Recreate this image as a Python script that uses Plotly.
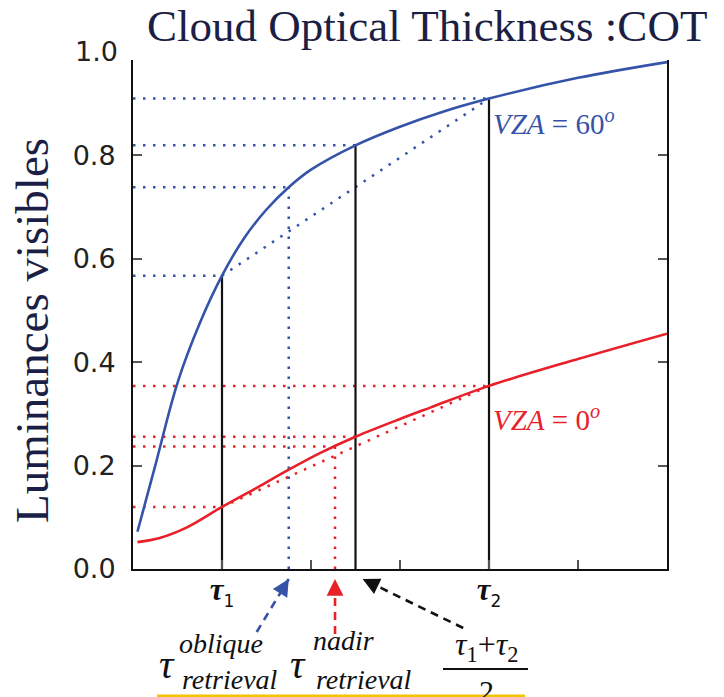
import plotly.graph_objects as go

# ---------------- data ----------------
x_blue = [0.05, 0.25, 0.5, 0.75, 1.0, 1.25, 1.5, 1.75, 2.0, 2.5, 3.0, 3.5, 4.0, 5.0, 6.0]
y_blue = [0.072, 0.200, 0.360, 0.475, 0.567, 0.640, 0.695, 0.738, 0.772, 0.819, 0.855, 0.885, 0.9095, 0.9495, 0.980]

x_red = [0.05, 0.3, 0.6, 1.0, 1.4, 1.73, 2.1, 2.5, 3.0, 3.34, 4.0, 5.0, 6.0]
y_red = [0.052, 0.060, 0.080, 0.120, 0.158, 0.190, 0.224, 0.2557, 0.290, 0.312, 0.354, 0.406, 0.455]

# guide points (x where read, curve value there)
guide_x_blue = [1.0, 1.75, 2.5, 4.0]
guide_y_blue = [0.567, 0.738, 0.819, 0.9095]
guide_x_red = [1.0, 2.27, 2.5, 4.0]
guide_y_red = [0.120, 0.237, 0.2557, 0.354]

tau_x = [1.0, 2.5, 4.0]            # tau1, (tau1+tau2)/2, tau2
tau_top = [0.567, 0.819, 0.9095]   # blue curve values at those x
tau_oblique = 1.75
tau_nadir = 2.27

x_tickvals = [1, 2, 3, 4, 5]
x_ticktext = ["<b><i>τ</i></b><sub><span style='font-size:17px;font-family:DejaVu Sans'>1</span></sub>", "", "",
              "<b><i>τ</i></b><sub><span style='font-size:17px;font-family:DejaVu Sans'>2</span></sub>", ""]
y_tickvals = [0.0, 0.2, 0.4, 0.6, 0.8]
y_ticktext = ["0.0", "0.2", "0.4", "0.6", "0.8"]
y_extra_label = 1.0

x_range = [0, 6]
y_range = [0, 0.984]

BLUE = "#3553a8"
RED = "#e8202a"
NAVY = "#1c1f45"
DOT = "2.5px,7.5px"

W, H = 724, 697
ML, MR, MT, MB = 133, 57, 60, 128
PW, PH = W - ML - MR, H - MT - MB


def pxx(px):
    return (px - ML) / PW


def pxy(py):
    return (H - MB - py) / PH


def ypaper(v):
    return (v - y_range[0]) / (y_range[1] - y_range[0])


fig = go.Figure()


def seg_trace(xs, ys, color, dash, width=2.5):
    fig.add_trace(go.Scatter(x=xs, y=ys, mode="lines", hoverinfo="skip",
                             line=dict(color=color, width=width, dash=dash),
                             showlegend=False))


# horizontal dotted guides
for gx_list, gy_list, col in [(guide_x_blue, guide_y_blue, BLUE), (guide_x_red, guide_y_red, RED)]:
    xs, ys = [], []
    for gx, gy in zip(gx_list, gy_list):
        xs += [x_range[0], gx, None]
        ys += [gy, gy, None]
    seg_trace(xs, ys, col, DOT)

# chords between tau1 and tau2
seg_trace([guide_x_blue[0], guide_x_blue[-1]], [guide_y_blue[0], guide_y_blue[-1]], BLUE, DOT)
seg_trace([guide_x_red[0], guide_x_red[-1]], [guide_y_red[0], guide_y_red[-1]], RED, DOT)

# vertical dotted retrieval lines
seg_trace([tau_oblique, tau_oblique], [0, guide_y_blue[1]], BLUE, DOT)
seg_trace([tau_nadir, tau_nadir], [0, guide_y_red[1]], RED, DOT)

# black verticals
xs, ys = [], []
for tx, tt in zip(tau_x, tau_top):
    xs += [tx, tx, None]
    ys += [0, tt, None]
seg_trace(xs, ys, "#111111", "solid", 2.2)

# curves
fig.add_trace(go.Scatter(x=x_blue, y=y_blue, mode="lines", line=dict(color=BLUE, width=2.6, shape="spline", smoothing=1.0),
                         showlegend=False, hoverinfo="skip"))
fig.add_trace(go.Scatter(x=x_red, y=y_red, mode="lines", line=dict(color=RED, width=2.6, shape="spline", smoothing=1.0),
                         showlegend=False, hoverinfo="skip"))

annotations = []
shapes = []

# VZA labels
annotations.append(dict(x=4.02, y=0.865, xref="x", yref="y", xanchor="left", yanchor="middle", showarrow=False,
                        text="<i>VZA</i> = 60<sup><i>o</i></sup>",
                        font=dict(family="Liberation Serif", size=29, color=BLUE)))
annotations.append(dict(x=4.02, y=0.292, xref="x", yref="y", xanchor="left", yanchor="middle", showarrow=False,
                        text="<i>VZA</i> = 0<sup><i>o</i></sup>",
                        font=dict(family="Liberation Serif", size=29, color=RED)))

# "1.0" tick label above range
annotations.append(dict(x=pxx(120), y=ypaper(y_extra_label), xref="paper", yref="paper", xanchor="right",
                        yanchor="middle", showarrow=False, text="1.0",
                        font=dict(family="DejaVu Sans", size=27, color="#222222")))

# y title
annotations.append(dict(x=pxx(32), y=pxy(331), xref="paper", yref="paper", xanchor="center", yanchor="middle",
                        showarrow=False, textangle=-90, text="Luminances visibles",
                        font=dict(family="Liberation Serif", size=47, color=NAVY)))

# dashed arrows below axis
arrows = [
    (BLUE, tau_oblique - 0.36, pxy(632), tau_oblique, pxy(579)),
    (RED, tau_nadir, pxy(634), tau_nadir, pxy(579)),
    ("#111111", 3.71, pxy(628), 2.58, pxy(579)),
]
for col, x0, y0, x1, y1 in arrows:
    shapes.append(dict(type="line", xref="x", yref="paper", x0=x0, y0=y0, x1=x1, y1=y1,
                       line=dict(color=col, width=2.6, dash="8px,6px")))
    dxp = (x0 - x1) / (x_range[1] - x_range[0]) * PW
    dyp = -(y0 - y1) * PH
    L = (dxp ** 2 + dyp ** 2) ** 0.5
    annotations.append(dict(x=x1, y=y1, xref="x", yref="paper", ax=dxp / L * 14, ay=dyp / L * 14,
                            axref="pixel", ayref="pixel", showarrow=True, arrowhead=2, arrowsize=1.4,
                            arrowwidth=2.4, arrowcolor=col, text="", standoff=0))

LBL = dict(family="Liberation Serif", color="#111111")
annotations += [
    dict(x=pxx(167), y=pxy(664), text="<i>τ</i>", font=dict(size=40, **LBL)),
    dict(x=pxx(221), y=pxy(643), text="<i>oblique</i>", font=dict(size=28, **LBL)),
    dict(x=pxx(230), y=pxy(679), text="<i>retrieval</i>", font=dict(size=28, **LBL)),
    dict(x=pxx(298), y=pxy(664), text="<i>τ</i>", font=dict(size=40, **LBL)),
    dict(x=pxx(343), y=pxy(640), text="<i>nadir</i>", font=dict(size=28, **LBL)),
    dict(x=pxx(364), y=pxy(679), text="<i>retrieval</i>", font=dict(size=28, **LBL)),
    dict(x=pxx(486), y=pxy(646), text="<i>τ</i><sub>1</sub>+<i>τ</i><sub>2</sub>", font=dict(size=32, **LBL)),
    dict(x=pxx(486), y=pxy(690), text="2", font=dict(size=30, **LBL)),
]
for a in annotations[-8:]:
    a.update(xref="paper", yref="paper", xanchor="center", yanchor="middle", showarrow=False)

# fraction bar and yellow underline
shapes.append(dict(type="line", xref="paper", yref="paper", x0=pxx(443), x1=pxx(528), y0=pxy(669), y1=pxy(669),
                   line=dict(color="#111111", width=2)))
shapes.append(dict(type="line", xref="paper", yref="paper", x0=pxx(157), x1=pxx(525), y0=pxy(696), y1=pxy(696),
                   line=dict(color="#f5c400", width=3)))

fig.update_layout(
    width=W, height=H,
    margin=dict(l=ML, r=MR, t=MT, b=MB, pad=0),
    paper_bgcolor="white", plot_bgcolor="white",
    showlegend=False,
    title=dict(text="Cloud Optical Thickness :COT", x=147 / W, xanchor="left", xref="container",
               y=1 - 25 / H, yanchor="middle", yref="container",
               font=dict(family="Liberation Serif", size=45, color=NAVY)),
    annotations=annotations,
    shapes=shapes,
)
fig.update_xaxes(range=x_range, showgrid=False, zeroline=False, showline=True, linecolor="#111111", linewidth=2,
                 ticks="inside", ticklen=9, tickwidth=1.5, tickcolor="#555555",
                 tickvals=x_tickvals, ticktext=x_ticktext, ticklabelstandoff=-8,
                 tickfont=dict(family="Liberation Serif", size=31, color="#111111"))
fig.update_yaxes(range=y_range, showgrid=False, zeroline=False, showline=True, linecolor="#111111", linewidth=2,
                 mirror="ticks", ticks="inside", ticklen=9, tickwidth=1.5, tickcolor="#555555",
                 tickvals=y_tickvals, ticktext=y_ticktext, ticklabelstandoff=10,
                 tickfont=dict(family="DejaVu Sans", size=27, color="#222222"))

fig.write_html("out.html")
